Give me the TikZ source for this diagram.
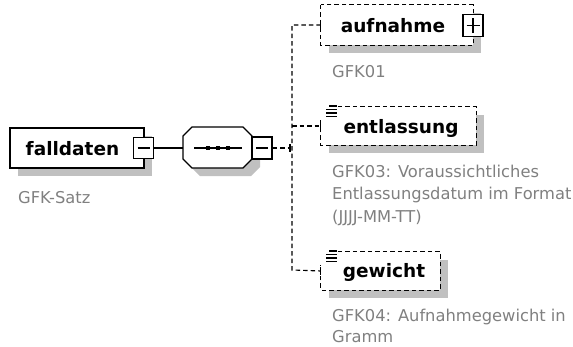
\documentclass[tikz,border=0pt]{standalone}
\usepackage{fontspec}
\setmainfont{DejaVu Sans}
\definecolor{shadowgrey}{HTML}{C0C0C0}
\definecolor{notegrey}{HTML}{808080}
\begin{document}
\begin{tikzpicture}[x=1pt,y=1pt,
  shadowfill/.style={fill=shadowgrey, draw=none},
  solidbox/.style={draw=black, fill=white, line width=1.4pt, inner sep=0pt},
  optfill/.style={draw=none, fill=white, inner sep=0pt},
  boxdash/.style={draw=black, line width=1.1pt, dash pattern=on 4.5pt off 3pt},
  tog/.style={draw=black, fill=white, line width=1.1pt, inner sep=0pt, minimum width=20pt, minimum height=21pt},
  conn/.style={line width=1.1pt, dash pattern=on 4.5pt off 3pt},
  solidconn/.style={line width=1.1pt},
  lbl/.style={font=\fontsize{18.5}{22}\selectfont\bfseries, anchor=base, inner sep=0pt},
  note/.style={font=\fontsize{16.3}{22.5}\selectfont, text=notegrey, anchor=base west, inner sep=0pt}
]
\useasboundingbox (0,0) rectangle (573,-346);

% ---------- falldaten ----------
\fill[shadowfill] (18,-136) rectangle (152,-176);
\node[solidbox, minimum width=134pt, minimum height=40pt] (falldaten) at (77,-148) {};
\node[lbl] (falldatenlbl) at (72.5,-155) {falldaten};
\node[tog] (fminus) at (143.5,-148) {};
\draw[line width=1.1pt] ([xshift=-6pt]fminus.center) -- ([xshift=6pt]fminus.center);
\node[note] (gfksatz) at (18,-203) {GFK-Satz};

% ---------- sequence compositor ----------
\fill[shadowfill] (200,-135) -- (251,-135) -- (260,-144) -- (260,-167) -- (251,-176) -- (200,-176) -- (191,-167) -- (191,-144) -- cycle;
\draw[fill=white, line width=1.3pt] (192,-127) -- (243,-127) -- (252,-136) -- (252,-159) -- (243,-168) -- (192,-168) -- (183,-159) -- (183,-136) -- cycle;
\coordinate (seqW) at (183,-148);
\draw[line width=1.1pt] (194,-148) -- (242,-148);
\foreach \xx in {208,218,228} \fill (\xx-2.3,-150.3) rectangle (\xx+2.3,-145.7);
\node[tog, minimum height=22pt] (sminus) at (262,-148) {};
\draw[line width=1.1pt] ([xshift=-6pt]sminus.center) -- ([xshift=6pt]sminus.center);
\draw[solidconn] (fminus.east) -- (seqW);

% ---------- aufnahme ----------
\fill[shadowfill] (329,-13) rectangle (481,-53);
\node[optfill, minimum width=152pt, minimum height=40pt] (aufn) at (397,-25) {};
\draw[boxdash] (aufn.north west) rectangle (aufn.south east);
\node[lbl] (aufnlbl) at (393,-32) {aufnahme};
\node[tog, minimum height=22pt] (aplus) at (473,-25.5) {};
\draw[line width=1.1pt] ([xshift=-6.5pt]aplus.center) -- ([xshift=6.5pt]aplus.center);
\draw[line width=1.1pt] ([yshift=-7.5pt]aplus.center) -- ([yshift=7.5pt]aplus.center);
\node[note] (gfk01) at (332,-77) {GFK01};

% ---------- entlassung ----------
\fill[shadowfill] (329,-115) rectangle (484,-153);
\node[optfill, minimum width=155pt, minimum height=38pt] (entl) at (398.5,-126) {};
\draw[boxdash] ([xshift=17pt]entl.north west) -- (entl.north east) -- (entl.south east) -- (entl.south west) -- ([yshift=-13pt]entl.north west);
\foreach \yy/\xa in {106/329,109.5/326,113/326,116.5/326} \draw[line width=1.1pt] (\xa,-\yy) -- (336.5,-\yy);
\node[lbl] (entllbl) at (401,-133) {entlassung};
\node[note] (gfk03a) at (332,-177) {GFK03: Voraussichtliches};
\node[note] (gfk03b) at (332,-199.5) {Entlassungsdatum im Format};
\node[note] (gfk03c) at (332,-222) {(JJJJ-MM-TT)};

% ---------- gewicht ----------
\fill[shadowfill] (329,-260) rectangle (448,-298);
\node[optfill, minimum width=119pt, minimum height=38pt] (gew) at (380.5,-271) {};
\draw[boxdash] ([xshift=17pt]gew.north west) -- (gew.north east) -- (gew.south east) -- (gew.south west) -- ([yshift=-13pt]gew.north west);
\foreach \yy/\xa in {251/329,254.5/326,258/326,261.5/326} \draw[line width=1.1pt] (\xa,-\yy) -- (336.5,-\yy);
\node[lbl] (gewlbl) at (384,-277) {gewicht};
\node[note] (gfk04a) at (332,-321) {GFK04: Aufnahmegewicht in};
\node[note] (gfk04b) at (332,-342) {Gramm};

% ---------- connectors ----------
\coordinate (vtop) at (292,-25);
\coordinate (vmid) at (292,-126);
\coordinate (vjoin) at (290,-148);
\coordinate (vbot) at (292,-270);
\draw[conn] (aufn.west) -- (vtop) -- (vbot) -- (gew.west);
\draw[conn] (vmid) -- (entl.west);
\draw[conn] (sminus.east) -- (vjoin);
\draw[solidconn] ([yshift=4pt]vjoin) -- ([yshift=-4pt]vjoin);
\foreach \nn in {aufn,entl,gew} \draw[solidconn] ([yshift=4pt]\nn.west) -- ([yshift=-4pt]\nn.west);
\end{tikzpicture}
\end{document}
